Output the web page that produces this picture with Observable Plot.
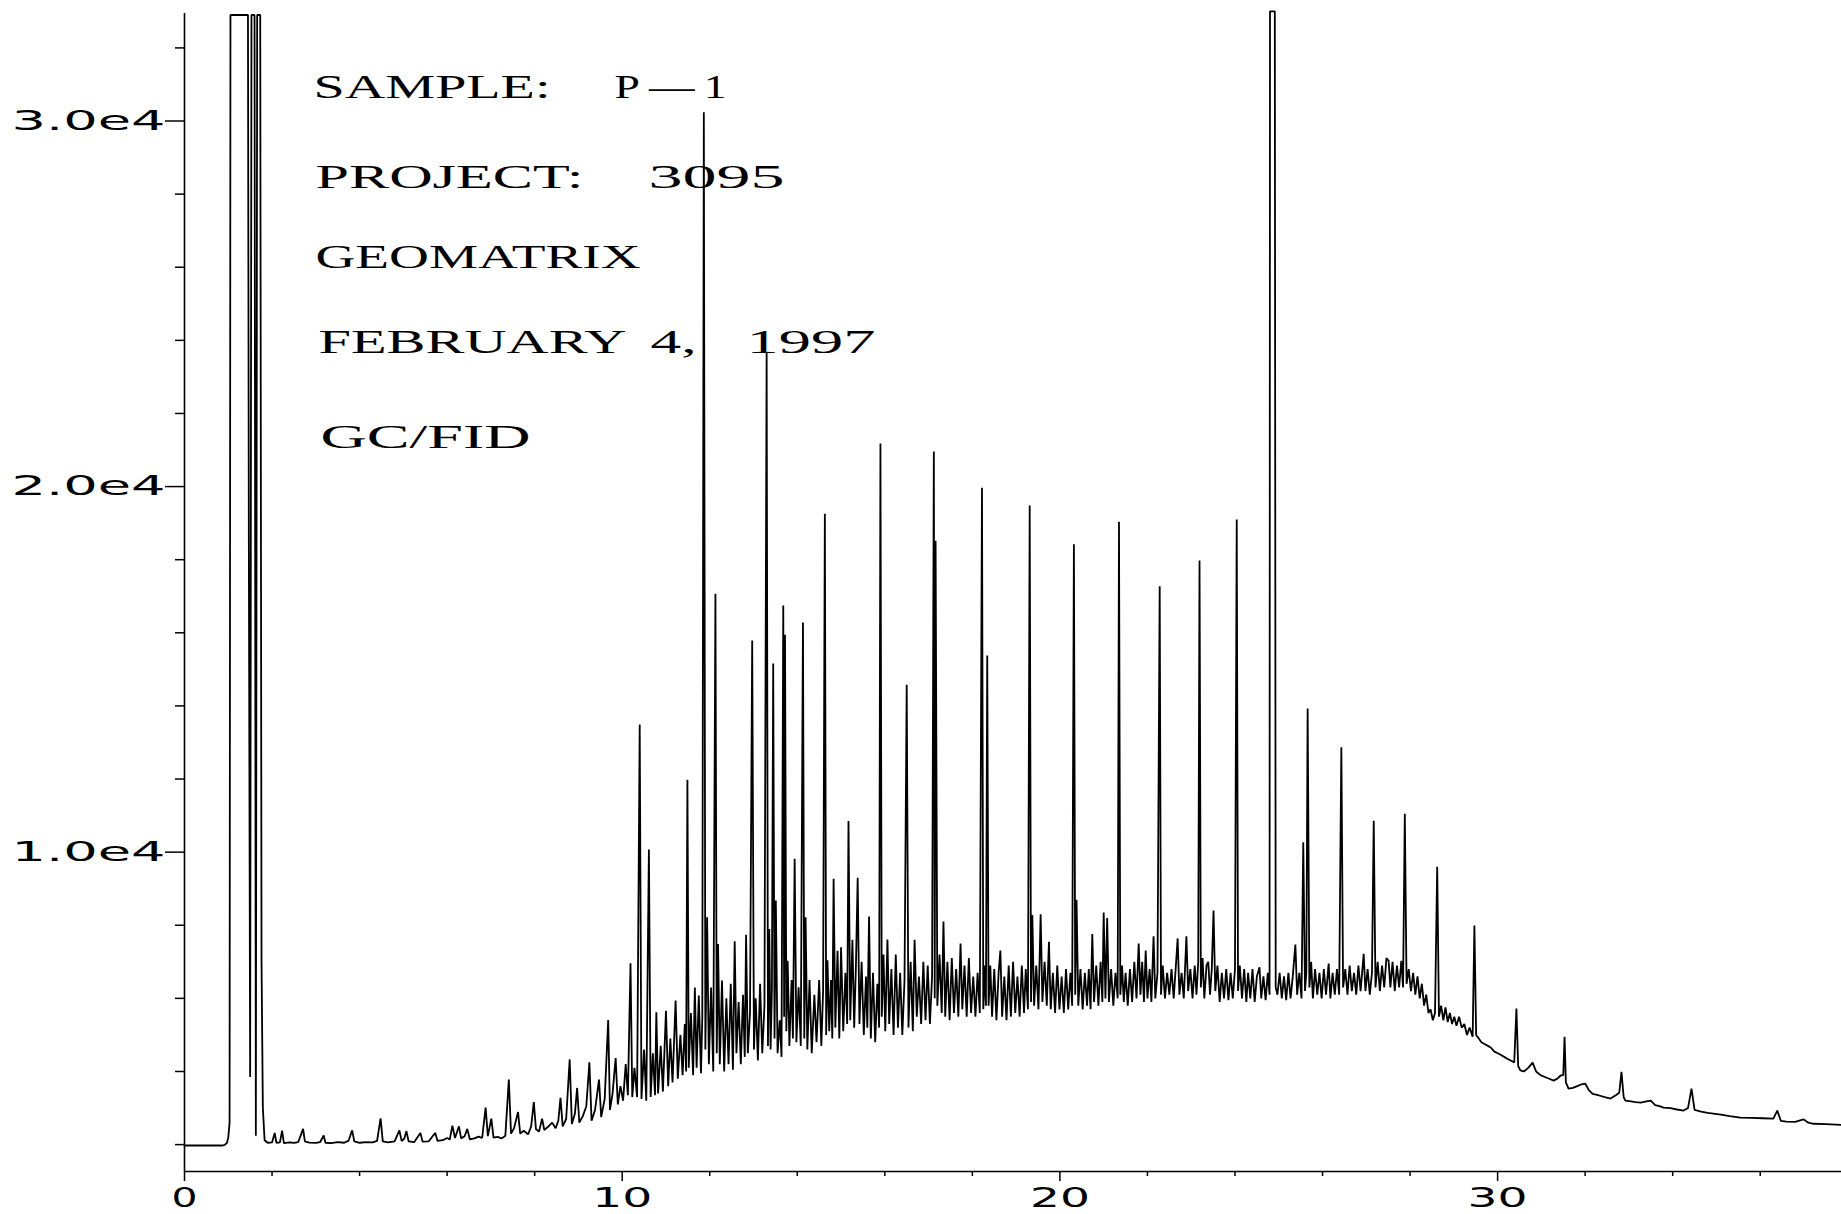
<!DOCTYPE html>
<html><head><meta charset="utf-8">
<script src="https://cdn.jsdelivr.net/npm/d3@7"></script>
<script src="https://cdn.jsdelivr.net/npm/@observablehq/plot@0.6"></script>
<style>html,body{margin:0;padding:0;background:#fff;overflow:hidden}</style>
</head><body><div id="chart"></div>
<script>
// retention time (min), detector response
const solventFront = [[0,1975],[0.5,1975],[0.86,1975],[0.92,1990],[0.97,2050],[1.0,2190],[1.03,2600],[1.05,32900],[1.45,32900],[1.47,18500],[1.5,3850],[1.53,32900],[1.6,32900],[1.63,2240],[1.66,32900],[1.73,32900],[1.76,7000],[1.79,3000],[1.83,2120]];
const earlyBaseline = [[1.9,2050],[2.0,2060],[2.06,2320],[2.1,2050],[2.18,2060],[2.23,2380],[2.27,2040],[2.4,2060],[2.5,2045],[2.6,2070],[2.71,2430],[2.75,2090],[2.85,2055],[3.0,2045],[3.1,2070],[3.18,2250],[3.22,2050],[3.35,2040],[3.5,2065],[3.65,2050],[3.75,2110],[3.83,2390],[3.88,2090],[4.0,2050],[4.15,2070],[4.3,2060],[4.4,2100],[4.48,2720],[4.53,2090],[4.65,2060],[4.8,2090],[4.91,2390],[4.96,2100],[5.02,2160],[5.07,2370],[5.12,2090],[5.25,2070],[5.39,2320],[5.44,2080],[5.58,2090],[5.73,2320],[5.78,2100],[5.9,2120],[6.0,2180],[6.06,2140],[6.12,2520],[6.18,2180],[6.27,2500],[6.32,2170],[6.4,2230],[6.46,2430],[6.52,2140],[6.62,2170],[6.72,2220],[6.8,2180],[6.88,3010],[6.93,2230],[7.01,2710],[7.06,2190],[7.15,2210],[7.25,2170],[7.33,2240],[7.41,3780],[7.46,2300],[7.53,2450],[7.62,2890],[7.67,2300],[7.75,2380],[7.85,2280],[7.92,2500],[7.98,3160],[8.03,2420],[8.1,2360],[8.17,2710],[8.22,2400],[8.3,2480],[8.4,2600],[8.48,2450],[8.54,2650],[8.59,3280],[8.64,2500],[8.72,2700],[8.8,4330],[8.85,2560],[8.92,2850],[8.97,3550],[9.02,2600],[9.1,2780],[9.18,3050],[9.25,4250],[9.3,2650],[9.38,2950],[9.47,3780],[9.52,2750]];
const humpRegion = [[9.6,3250],[9.68,5410],[9.72,2950],[9.78,3400],[9.85,4370],[9.9,3100],[9.96,3600],[10.02,3200],[10.08,4200],[10.13,3350],[10.19,6960],[10.23,3300],[10.28,4100],[10.34,3300],[10.4,13490],[10.44,3250],[10.5,4600],[10.55,3200],[10.61,10070],[10.65,3300],[10.7,4500],[10.75,3350],[10.78,5620],[10.82,3400],[10.88,4700],[10.93,3450],[11.0,5660],[11.05,3600],[11.1,4900],[11.15,3700],[11.22,5940],[11.27,3800],[11.33,5000],[11.38,3900],[11.43,5300],[11.46,4000],[11.49,11980],[11.52,4100],[11.57,5600],[11.62,3900],[11.66,6300],[11.7,4100],[11.75,6080],[11.8,3950],[11.83,5500],[11.865,30240],[11.9,4600],[11.94,8220],[11.98,4200],[12.03,6300],[12.08,4000],[12.13,17070],[12.16,4500],[12.19,7490],[12.23,4200],[12.28,6490],[12.33,4000],[12.38,6000],[12.43,4200],[12.48,6400],[12.53,4050],[12.57,7560],[12.61,4500],[12.66,5900],[12.71,4200],[12.76,6100],[12.8,4400],[12.83,7740],[12.87,4500],[12.92,5600],[12.97,15790],[13.01,4600],[13.05,6000],[13.1,4300],[13.15,6400],[13.2,4500],[13.25,5800],[13.3,23660],[13.33,4700],[13.36,7900],[13.39,4600],[13.42,6200],[13.45,15160],[13.48,4900],[13.51,8680],[13.55,4500],[13.6,5400],[13.64,4400],[13.68,16750],[13.7,5500],[13.72,15950],[13.75,5100],[13.78,7030],[13.82,4700],[13.87,6500],[13.9,4900],[13.94,9820],[13.98,4800],[14.03,6300],[14.08,4700],[14.13,16280],[14.16,4900],[14.19,8220],[14.23,4600],[14.28,6500],[14.33,4500],[14.39,6100],[14.44,4800],[14.5,6500],[14.55,4700],[14.59,6200],[14.63,19260],[14.66,5000],[14.69,7040],[14.73,5100],[14.77,6500],[14.8,4900],[14.83,9270],[14.87,5200],[14.92,7300],[14.96,4900],[15.0,7400],[15.05,5100],[15.1,6700],[15.14,5300],[15.17,10850],[15.21,5400],[15.26,7600],[15.3,5200],[15.34,6900],[15.38,9300],[15.42,5300],[15.47,7000],[15.52,5000],[15.57,6600],[15.6,5200],[15.64,8240],[15.68,4900],[15.73,6700],[15.78,4800],[15.83,6400],[15.87,5200],[15.9,21180],[15.93,5500],[15.97,7200],[16.01,5100],[16.06,7610],[16.1,5300],[16.15,6800],[16.2,5000],[16.25,7200],[16.3,5200],[16.35,6700],[16.4,5000],[16.45,6500],[16.5,14580],[16.54,5200],[16.59,7000],[16.64,5100],[16.68,7600],[16.73,5500],[16.78,6600],[16.83,5300],[16.88,7000],[16.93,5400],[16.98,6900],[17.03,5300],[17.08,6600],[17.12,20960],[17.14,6000],[17.16,18520],[17.2,5800],[17.25,7200],[17.3,5600],[17.34,8100],[17.38,5500],[17.43,7000],[17.48,5400],[17.53,7100],[17.58,5600],[17.63,6800],[17.68,5500],[17.73,7500],[17.77,5700],[17.82,6900],[17.87,5500],[17.92,7100],[17.97,5600],[18.02,6600],[18.07,5500],[18.12,6700],[18.17,5600],[18.22,19970],[18.25,5700],[18.29,6900],[18.31,5800],[18.34,15380],[18.37,5800],[18.41,6900],[18.45,5500],[18.5,6800],[18.55,5400],[18.6,6700],[18.64,7310],[18.68,5500],[18.73,6600],[18.78,5400],[18.83,6900],[18.88,5500],[18.93,7000],[18.98,5600],[19.03,6600],[19.08,5500],[19.13,6900],[19.18,5600],[19.22,6800],[19.27,5700],[19.31,19480],[19.34,5900],[19.37,8280],[19.41,5800],[19.46,6900],[19.51,5700],[19.56,8300],[19.6,5900],[19.65,7000],[19.7,5800],[19.75,7550],[19.79,5700],[19.84,6700],[19.89,5600],[19.94,6900],[19.99,5700],[20.04,6600],[20.09,5600],[20.14,6800],[20.19,5700],[20.24,6700],[20.28,5800],[20.32,18420],[20.35,6100],[20.38,8700],[20.42,5800],[20.47,6800],[20.52,5700],[20.57,6700],[20.62,5800],[20.66,6800],[20.7,5700],[20.74,7760],[20.78,5900],[20.83,6900],[20.88,5800],[20.93,7000],[20.97,5900],[21.0,8350],[21.04,6000],[21.08,8200],[21.12,5900],[21.17,6800],[21.22,5800],[21.27,6700],[21.32,6000],[21.35,19040],[21.38,6100],[21.42,6900],[21.46,5900],[21.5,6700],[21.55,5800],[21.6,6800],[21.65,5900],[21.7,7000],[21.75,6000],[21.8,7500],[21.84,6100],[21.88,7000],[21.92,5900],[21.96,7310],[22.0,6000],[22.05,6800],[22.09,5900],[22.14,7700],[22.18,6000],[22.23,6700],[22.28,17270],[22.31,6100],[22.35,6900],[22.4,6000],[22.45,6700],[22.5,6100],[22.55,6800],[22.6,6000],[22.65,6900],[22.69,7640],[22.73,6100],[22.78,6700],[22.83,6000],[22.89,7700],[22.93,6200],[22.98,6800],[23.03,6000],[23.08,6900],[23.12,6100],[23.16,7000],[23.19,17980],[23.22,6300],[23.26,7100],[23.3,6000],[23.35,6900],[23.39,7000],[23.43,6100],[23.47,6800],[23.51,8400],[23.55,6200],[23.6,6900],[23.65,5900],[23.7,6700],[23.75,6000],[23.8,6800],[23.85,5950],[23.9,6700],[23.95,6000],[24.0,6800],[24.04,19100],[24.07,6200],[24.11,6900],[24.16,6000],[24.21,6800],[24.26,5900],[24.3,6700],[24.35,6000],[24.4,6800],[24.45,5900],[24.5,6600],[24.56,6850],[24.6,6000],[24.65,6600],[24.7,5950],[24.75,6700],[24.79,6100],[24.8,33000],[24.91,33000],[24.93,6300],[24.97,6100],[25.02,6700],[25.07,6000],[25.12,6600],[25.17,5950],[25.22,6700],[25.27,6000],[25.32,6600],[25.38,7470],[25.42,6100],[25.47,6700],[25.52,6000],[25.56,10270],[25.6,6200],[25.63,6700],[25.66,13930],[25.7,6300],[25.74,7000],[25.78,6000],[25.83,6800],[25.88,6100],[25.93,6700],[25.98,6000],[26.03,6800],[26.08,6100],[26.14,6950],[26.18,6000],[26.23,6700],[26.28,6100],[26.33,6800],[26.38,6100],[26.43,12870],[26.47,6300],[26.52,6800],[26.57,6100],[26.62,6900],[26.67,6200],[26.72,6700],[26.77,6100],[26.82,6900],[26.87,6200],[26.94,7220],[26.98,6200],[27.03,6800],[27.08,6100],[27.13,6700],[27.17,10860],[27.21,6300],[27.26,7000],[27.31,6200],[27.36,6900],[27.41,6300],[27.46,7100],[27.51,7030],[27.55,6300],[27.6,7000],[27.65,6200],[27.7,6900],[27.75,6300],[27.8,7030],[27.84,6300],[27.88,11050],[27.92,6400],[27.97,6800],[28.02,6200],[28.07,6700],[28.12,6100],[28.17,6600],[28.22,6000],[28.27,6400],[28.32,5800],[28.37,6100],[28.42,5600],[28.47,5700],[28.52,5400],[28.57,5600],[28.62,9600],[28.66,5500]];
const tailRegion = [[28.71,5800],[28.76,5400],[28.81,5750],[28.86,5350],[28.91,5600],[28.96,5300],[29.01,5500],[29.06,5250],[29.12,5500],[29.18,5200],[29.24,5300],[29.3,5000],[29.36,5200],[29.43,4950],[29.47,7990],[29.51,5000],[29.57,4900],[29.63,4800],[29.7,4750],[29.78,4700],[29.85,4650],[29.92,4550],[30.0,4500],[30.08,4450],[30.15,4400],[30.22,4350],[30.3,4300],[30.38,4250],[30.43,5720],[30.47,4150],[30.52,4030],[30.6,4000],[30.7,4100],[30.8,4240],[30.88,4000],[30.98,3900],[31.08,3850],[31.18,3800],[31.28,3750],[31.36,3800],[31.44,3890],[31.5,3900],[31.53,4950],[31.56,3700],[31.62,3530],[31.72,3550],[31.82,3600],[31.92,3650],[32.0,3670],[32.08,3500],[32.17,3390],[32.3,3350],[32.45,3300],[32.58,3260],[32.7,3350],[32.78,3420],[32.83,3990],[32.88,3300],[32.92,3200],[33.05,3180],[33.15,3160],[33.27,3150],[33.4,3180],[33.5,3200],[33.6,3080],[33.7,3050],[33.79,3010],[33.95,3000],[34.1,2960],[34.25,2930],[34.35,3000],[34.43,3530],[34.5,2950],[34.65,2900],[34.8,2870],[34.93,2850],[35.1,2820],[35.3,2780],[35.55,2740],[35.8,2730],[36.05,2720],[36.3,2710],[36.39,2930],[36.47,2650],[36.6,2630],[36.8,2620],[36.99,2690],[37.1,2600],[37.22,2570],[37.5,2560],[37.86,2540]];

const xMajorTicks = [0, 10, 20, 30];
const xMinorTicks = [2, 4, 6, 8, 12, 14, 16, 18, 22, 24, 26, 28, 32, 34, 36];
const yMajorTicks = [10000, 20000, 30000];
const yTickLabels = ["1.0e4", "2.0e4", "3.0e4"];
const yMinorTicks = [2000, 4000, 6000, 8000, 12000, 14000, 16000, 18000, 22000, 24000, 26000, 28000, 32000];
const noteLines = [["SAMPLE:", "P\u2009\u2014\u20091"], ["PROJECT:", "3095"], ["GEOMATRIX"], ["FEBRUARY", "4,", "1997"], ["GC/FID"]];

const trace = [...solventFront, ...earlyBaseline, ...humpRegion, ...tailRegion].map(([t, v]) => ({t, v}));

// layout of the annotation words (pixel placement: left edge, width) and cap-top of each line
const ML = 184, MT = 13;
const noteLayout = [
  [[313, 237], [614, 112]],
  [[315, 268], [648, 136]],
  [[315, 325]],
  [[318, 308], [650, 46], [746, 129]],
  [[320, 210]]
];
const noteTop = [74, 164, 244, 329, 424];

const noteMarks = [];
noteLines.forEach((words, i) => words.forEach((w, j) => {
  noteMarks.push(Plot.text([w], {
    frameAnchor: "top-left", text: d => d, textAnchor: "start", lineAnchor: "top",
    dx: noteLayout[i][j][0] - ML, dy: noteTop[i] - MT,
    fontSize: 33, fontFamily: "Liberation Serif", fill: "black"
  }));
}));

const chart = Plot.plot({
  width: 1841, height: 1214,
  marginLeft: ML, marginRight: 0, marginTop: MT, marginBottom: 43,
  x: {domain: [0, 37.857], label: null},
  y: {domain: [1264, 32941], label: null},
  style: {background: "white", color: "black", fontFamily: "DejaVu Sans"},
  marks: [
    Plot.axisY(yMinorTicks, {tickSize: 9, strokeWidth: 1.5, tickFormat: () => "", label: null}),
    Plot.axisY(yMajorTicks, {tickSize: 19, tickPadding: 0, strokeWidth: 1.5, fontSize: 27,
      tickFormat: d => yTickLabels[yMajorTicks.indexOf(d)], label: null}),
    Plot.axisX(xMinorTicks, {tickSize: 5, strokeWidth: 1.5, tickFormat: () => "", label: null}),
    Plot.axisX(xMajorTicks, {tickSize: 10, tickPadding: 6, strokeWidth: 1.5, fontSize: 27,
      tickFormat: d => String(d), label: null}),
    Plot.ruleX([0], {stroke: "black", strokeWidth: 1.6}),
    Plot.ruleY([1264], {stroke: "black", strokeWidth: 1.6}),
    Plot.line(trace, {x: "t", y: "v", stroke: "black", strokeWidth: 1.8, strokeLinejoin: "miter"}),
    ...noteMarks
  ]
});
document.getElementById("chart").append(chart);

// stretch the wide plotter-style lettering
chart.querySelectorAll('g[aria-label="y-axis tick label"] text').forEach(t => {
  if (t.textContent.trim()) { t.setAttribute("textLength", 154); t.setAttribute("lengthAdjust", "spacingAndGlyphs"); }
});
chart.querySelectorAll('g[aria-label="x-axis tick label"] text').forEach(t => {
  const s = t.textContent.trim();
  if (s) { t.setAttribute("textLength", s.length === 1 ? 26 : 60); t.setAttribute("lengthAdjust", "spacingAndGlyphs"); }
});
const noteEls = chart.querySelectorAll('g[aria-label="text"] text');
let k = 0;
noteLines.forEach((words, i) => words.forEach((w, j) => {
  const t = noteEls[k++];
  if (t) { t.setAttribute("textLength", noteLayout[i][j][1]); t.setAttribute("lengthAdjust", "spacingAndGlyphs"); }
}));
</script>
</body></html>
